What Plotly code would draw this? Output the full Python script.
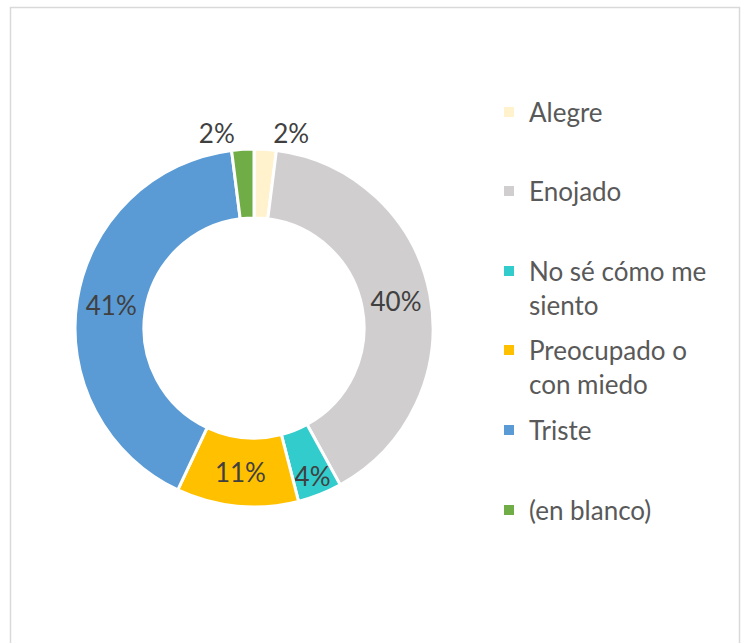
import plotly.graph_objects as go

categories = ["Alegre", "Enojado", "No sé cómo me siento", "Preocupado o con miedo", "Triste", "(en blanco)"]
legend_labels = ["Alegre", "Enojado", "No sé cómo me<br>siento", "Preocupado o<br>con miedo", "Triste", "(en blanco)"]
values = [2, 40, 4, 11, 41, 2]
colors = ["#FFF2CC", "#D0CECE", "#33CCCC", "#FFC000", "#5B9BD5", "#70AD47"]
text_positions = ["outside", "inside", "inside", "inside", "inside", "outside"]

W, H = 741, 643
FONT = "Lato"
TXT = "#595959"
LBL = "#404040"
FS = 26

fig = go.Figure()
fig.add_trace(go.Pie(
    labels=categories,
    values=values,
    sort=False,
    direction="clockwise",
    rotation=0,
    hole=0.615,
    marker=dict(colors=colors, line=dict(color="white", width=3)),
    texttemplate="%{percent:.0%}",
    textposition=text_positions,
    insidetextorientation="horizontal",
    textfont=dict(family=FONT, size=FS, color=LBL),
    outsidetextfont=dict(family=FONT, size=FS, color=LBL),
    insidetextfont=dict(family=FONT, size=FS, color=LBL),
    domain=dict(x=[75 / W, 433 / W], y=[1 - 507 / H, 1 - 149 / H]),
    showlegend=False,
    hoverinfo="label+percent",
))

# Legend entries (one legend each so spacing matches the reference)
legend_centers = [114, 193, 273, 352, 432, 512]
legend_names = ["legend", "legend2", "legend3", "legend4", "legend5", "legend6"]
layout_legends = {}
for lab, col, lname, cy in zip(legend_labels, colors, legend_names, legend_centers):
    fig.add_trace(go.Scatter(
        x=[None], y=[None], mode="markers", name=lab,
        marker=dict(symbol="square", size=10, color=col),
        legend=lname, showlegend=True, hoverinfo="skip",
    ))
    layout_legends[lname] = dict(
        x=489 / W, xanchor="left",
        y=1 - (cy - 25.5) / H, yanchor="top",
        valign="top",
        font=dict(family=FONT, size=FS, color=TXT),
        bgcolor="rgba(0,0,0,0)", borderwidth=0,
        itemwidth=30,
    )

fig.update_layout(
    width=W, height=H,
    margin=dict(l=0, r=0, t=0, b=0),
    paper_bgcolor="white", plot_bgcolor="white",
    xaxis=dict(visible=False), yaxis=dict(visible=False),
    uniformtext=dict(minsize=FS, mode="show"),
    shapes=[dict(type="rect", xref="paper", yref="paper",
                 x0=10.5 / W, x1=739.5 / W, y0=-0.05, y1=1 - 7.5 / H,
                 line=dict(color="#D9D9D9", width=1.5), fillcolor="rgba(0,0,0,0)", layer="below")],
    **layout_legends,
)

fig.write_html("out.html", config={"displayModeBar": False},
               post_script="document.body.style.margin='0';document.body.style.overflow='hidden';")
